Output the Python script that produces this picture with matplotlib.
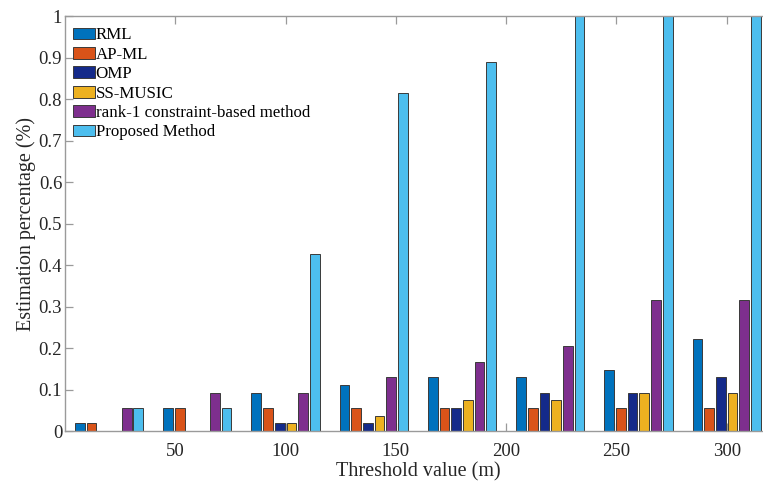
import numpy as np
import matplotlib
matplotlib.use("Agg")
import matplotlib.pyplot as plt

plt.rcParams['font.family'] = ['Liberation Serif', 'DejaVu Serif']

# threshold values (m) and estimation percentages for each method
thresholds = [20, 60, 100, 140, 180, 220, 260, 300]
methods = ["RML", "AP-ML", "OMP", "SS-MUSIC",
           "rank-1 constraint-based method", "Proposed Method"]
rml      = [0.0185, 0.0556, 0.0926, 0.1111, 0.1296, 0.1296, 0.1481, 0.2222]
ap_ml    = [0.0185, 0.0556, 0.0556, 0.0556, 0.0556, 0.0556, 0.0556, 0.0556]
omp      = [0.0,    0.0,    0.0185, 0.0185, 0.0556, 0.0926, 0.0926, 0.1296]
ss_music = [0.0,    0.0,    0.0185, 0.0370, 0.0741, 0.0741, 0.0926, 0.0926]
rank1    = [0.0556, 0.0926, 0.0926, 0.1296, 0.1667, 0.2037, 0.3148, 0.3148]
proposed = [0.0556, 0.0556, 0.4259, 0.8148, 0.8889, 1.0,    1.0,    1.0]
series = [rml, ap_ml, omp, ss_music, rank1, proposed]
colors = ["#0072BD", "#D95319", "#142A8A", "#EDB120", "#7E2F8E", "#4DBEEE"]
xticks = [50, 100, 150, 200, 250, 300]
yticks = np.round(np.arange(0, 1.01, 0.1), 1)

fig = plt.figure(figsize=(7.63, 4.82), dpi=100)
ax = fig.add_axes([0.0852, 0.1058, 0.925, 0.861])

pitch = 5.3
width = 4.4
x = np.array(thresholds, dtype=float)
for i, (vals, name, c) in enumerate(zip(series, methods, colors)):
    offs = (i - 2.5) * pitch
    ax.bar(x + offs, vals, width=width, color=c, edgecolor="#3a3a3a",
           linewidth=0.7, label=name, zorder=2)

ax.set_xlim(0, 320)
ax.set_ylim(0, 1)
ax.set_xticks(xticks)
ax.set_xticklabels([str(t) for t in xticks])
ax.set_yticks(yticks)
ax.set_yticklabels(["0" if v == 0 else ("1" if v == 1 else f"{v:g}") for v in yticks])

for s in ax.spines.values():
    s.set_color("#9a9a9a")
    s.set_linewidth(1.0)
ax.tick_params(direction="in", length=5.5, width=0.9, color="#9a9a9a",
               labelsize=13.5, labelcolor="#262626",
               top=True, right=True)
ax.tick_params(axis="x", pad=8.5)
ax.tick_params(axis="y", pad=2)

ax.set_xlabel("Threshold value (m)", fontsize=14.5, color="#262626", labelpad=2)
ax.set_ylabel("Estimation percentage (%)", fontsize=14.5, color="#262626", labelpad=2)

ax.legend(loc="upper left", bbox_to_anchor=(0.0953, 0.943),
          bbox_transform=fig.transFigure, frameon=False, fontsize=12.2,
          handlelength=1.3, handleheight=0.68, handletextpad=0.05,
          labelspacing=0.2, borderaxespad=0, borderpad=0)

fig.savefig("out.png", dpi=100)
